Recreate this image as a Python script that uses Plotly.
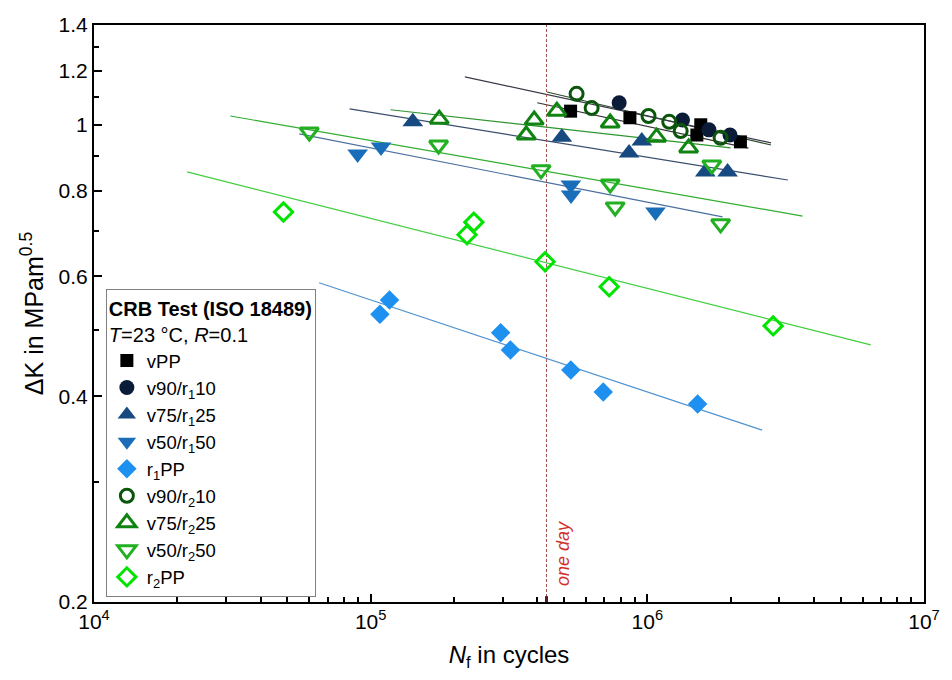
import numpy as np
import plotly.graph_objects as go

# ---------------- data ----------------
vPP_N = [5.28e5, 8.65e5, 1.56e6, 1.51e6, 2.17e6]
vPP_K = [1.047, 1.024, 1.000, 0.966, 0.944]

v90r1_N = [7.91e5, 1.34e6, 1.67e6, 1.99e6]
v90r1_K = [1.077, 1.016, 0.983, 0.966]

v75r1_N = [1.42e5, 4.91e5, 8.59e5, 9.55e5, 1.62e6, 1.95e6]
v75r1_K = [1.010, 0.959, 0.909, 0.947, 0.853, 0.853]

v50r1_N = [8.97e4, 1.09e5, 5.29e5, 5.30e5, 1.07e6]
v50r1_K = [0.906, 0.928, 0.816, 0.789, 0.745]

r1PP_N = [1.17e5, 1.08e5, 2.95e5, 3.20e5, 5.29e5, 6.93e5, 1.52e6]
r1PP_K = [0.554, 0.528, 0.496, 0.468, 0.4375, 0.406, 0.390]

v90r2_N = [5.55e5, 6.29e5, 1.01e6, 1.20e6, 1.32e6, 1.84e6]
v90r2_K = [1.110, 1.058, 1.030, 1.010, 0.979, 0.957]

v75r2_N = [1.77e5, 3.90e5, 3.65e5, 4.71e5, 7.34e5, 1.08e6, 1.41e6]
v75r2_K = [1.019, 1.016, 0.966, 1.047, 1.006, 0.959, 0.925]

v50r2_N = [6.0e4, 1.76e5, 4.13e5, 7.34e5, 7.65e5, 1.71e6, 1.84e6]
v50r2_K = [0.976, 0.934, 0.859, 0.819, 0.758, 0.873, 0.716]

r2PP_N = [4.84e4, 2.36e5, 2.23e5, 4.27e5, 7.28e5, 2.85e6]
r2PP_K = [0.745, 0.720, 0.690, 0.630, 0.579, 0.5075]

# fitted power-law lines: [start, end] for cycles and dK
fit_vPP_N = [4.0e5, 2.32e6];   fit_vPP_K = [1.077, 0.924]
fit_v90r1_N = [2.19e5, 2.80e6]; fit_v90r1_K = [1.175, 0.941]
fit_v75r1_N = [8.39e4, 3.22e6]; fit_v75r1_K = [1.055, 0.830]
fit_v50r1_N = [5.52e4, 1.87e6]; fit_v50r1_K = [0.9695, 0.733]
fit_r1PP_N = [6.51e4, 2.60e6];  fit_r1PP_K = [0.587, 0.357]
fit_v90r2_N = [4.34e5, 2.80e6]; fit_v90r2_K = [1.117, 0.934]
fit_v75r2_N = [1.18e5, 2.0e6];  fit_v75r2_K = [1.052, 0.925]
fit_v50r2_N = [3.11e4, 3.64e6]; fit_v50r2_K = [1.030, 0.735]
fit_r2PP_N = [2.17e4, 6.42e6];  fit_r2PP_K = [0.853, 0.476]

one_day_N = 432000
one_day_tick_K = [0.2, 0.204]
x_tickvals = [1e4, 1e5, 1e6, 1e7]
x_ticktext = ["10<sup>4</sup>", "10<sup>5</sup>", "10<sup>6</sup>", "10<sup>7</sup>"]
y_tickvals = [0.2, 0.4, 0.6, 0.8, 1.0, 1.2, 1.4]
y_ticktext = ["0.2", "0.4", "0.6", "0.8", "1", "1.2", "1.4"]
y_minor = [0.3, 0.5, 0.7, 0.9, 1.1, 1.3]
x_minor = [m * 10 ** e for e in (4, 5, 6) for m in range(2, 10)]

FONT = "Liberation Sans, Arial, sans-serif"

fig = go.Figure()

# fit lines first (under markers)
fits = [
    (fit_r2PP_N, fit_r2PP_K, "#3fcf3f"),
    (fit_r1PP_N, fit_r1PP_K, "#4f93cf"),
    (fit_v50r2_N, fit_v50r2_K, "#2fae2f"),
    (fit_v50r1_N, fit_v50r1_K, "#4a6f9f"),
    (fit_v75r2_N, fit_v75r2_K, "#2e962e"),
    (fit_v75r1_N, fit_v75r1_K, "#3c4e6e"),
    (fit_v90r2_N, fit_v90r2_K, "#2e4a2e"),
    (fit_v90r1_N, fit_v90r1_K, "#3a3a4a"),
    (fit_vPP_N, fit_vPP_K, "#303030"),
]
for fx, fy, col in fits:
    fig.add_trace(go.Scatter(x=fx, y=fy, mode="lines", line=dict(color=col, width=1.2),
                             showlegend=False, hoverinfo="skip"))

# one-day line
fig.add_trace(go.Scatter(x=[one_day_N, one_day_N], y=[0.2, 1.4], mode="lines",
                         line=dict(color="#a0504a", width=1, dash="3px,2px"),
                         showlegend=False, hoverinfo="skip"))
fig.add_trace(go.Scatter(x=[one_day_N, one_day_N], y=one_day_tick_K, mode="lines",
                         line=dict(color="#5a1a1a", width=3),
                         showlegend=False, hoverinfo="skip"))

series = [
    ("vPP", vPP_N, vPP_K, "square", "#000000", 13, False),
    ("v90/r<sub>1</sub>10", v90r1_N, v90r1_K, "circle", "#0a1c38", 15, False),
    ("v75/r<sub>1</sub>25", v75r1_N, v75r1_K, "triangle-up", "#164a80", 18, False),
    ("v50/r<sub>1</sub>50", v50r1_N, v50r1_K, "triangle-down", "#1a6db8", 18, False),
    ("r<sub>1</sub>PP", r1PP_N, r1PP_K, "diamond", "#1e90f0", 15, False),
    ("v90/r<sub>2</sub>10", v90r2_N, v90r2_K, "circle-open", "#0a560a", 13, True),
    ("v75/r<sub>2</sub>25", v75r2_N, v75r2_K, "triangle-up-open", "#108410", 16, True),
    ("v50/r<sub>2</sub>50", v50r2_N, v50r2_K, "triangle-down-open", "#22b022", 16, True),
    ("r<sub>2</sub>PP", r2PP_N, r2PP_K, "diamond-open", "#00e400", 14, True),
]
for name, xs, ys, sym, col, sz, is_open in series:
    if is_open:
        mk = dict(symbol=sym, size=sz, color=col, line=dict(color=col, width=3))
    else:
        mk = dict(symbol=sym, size=sz, color=col, line=dict(width=0))
    fig.add_trace(go.Scatter(x=xs, y=ys, mode="markers", name=name, marker=mk))

fig.add_annotation(x=np.log10(one_day_N), y=np.log10(0.2), xref="x", yref="y",
                   text="<i>one day</i>", textangle=-90, showarrow=False,
                   xanchor="left", yanchor="bottom", xshift=4, yshift=14,
                   font=dict(family=FONT, size=18, color="#d0302a"))

fig.update_xaxes(type="log", range=[4, 7], tickvals=x_tickvals, ticktext=x_ticktext,
                 ticks="inside", ticklen=8, tickwidth=2, tickcolor="black",
                 minor=dict(tickvals=x_minor, ticks="inside", ticklen=5, tickwidth=1.5, tickcolor="black"),
                 showline=True, linewidth=2, linecolor="black", mirror=True, showgrid=False,
                 zeroline=False, tickfont=dict(family=FONT, size=21, color="black"),
                 title=dict(text="<i>N</i><sub>f</sub> in cycles", font=dict(family=FONT, size=24, color="black"),
                            standoff=14))
fig.update_yaxes(type="log", range=[np.log10(0.2), np.log10(1.4)], tickvals=y_tickvals, ticktext=y_ticktext,
                 ticks="inside", ticklen=8, tickwidth=2, tickcolor="black",
                 minor=dict(tickvals=y_minor, ticks="inside", ticklen=5, tickwidth=1.5, tickcolor="black"),
                 showline=True, linewidth=2, linecolor="black", mirror=True, showgrid=False,
                 zeroline=False, tickfont=dict(family=FONT, size=21, color="black"),
                 title=dict(text="ΔK in MPam<sup>0.5</sup>", font=dict(family=FONT, size=25, color="black"),
                            standoff=8))

fig.update_layout(
    width=952, height=680,
    margin=dict(l=94, r=17, t=25, b=78),
    paper_bgcolor="white", plot_bgcolor="white",
    font=dict(family=FONT, color="black"),
    legend=dict(x=0.0143, y=0.5425, xanchor="left", yanchor="top",
                bgcolor="white", bordercolor="#808080", borderwidth=1,
                font=dict(family=FONT, size=18.5, color="black"),
                itemwidth=30, tracegroupgap=0,
                title=dict(text="<b>CRB Test (ISO 18489)</b><br><i>T</i>=23 °C, <i>R</i>=0.1",
                           font=dict(family=FONT, size=20, color="black"))),
)

fig.write_html("out.html")
